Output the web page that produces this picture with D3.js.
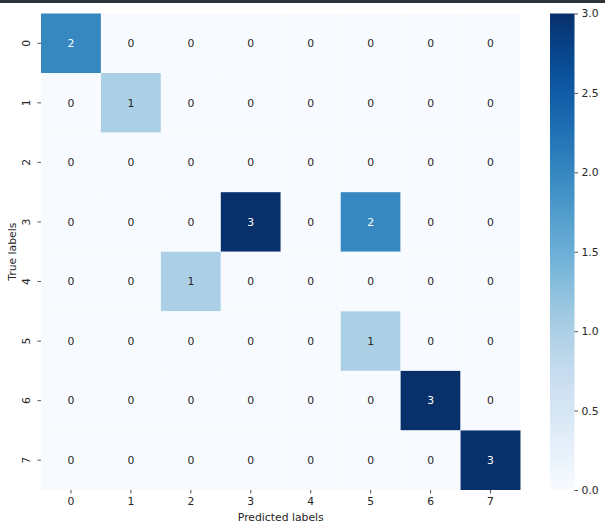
<!DOCTYPE html>
<html>
<head>
<meta charset="utf-8">
<script src="https://cdn.jsdelivr.net/npm/d3@7"></script>
<style>
  body { margin: 0; background: #fff; }
  text { font-family: "DejaVu Sans", sans-serif; fill: #262626; }
</style>
</head>
<body>
<div class="chart"></div>
<script>
const trueLabels = ['0', '1', '2', '3', '4', '5', '6', '7'];
const predLabels = ['0', '1', '2', '3', '4', '5', '6', '7'];
const counts = [
  [2, 0, 0, 0, 0, 0, 0, 0],
  [0, 1, 0, 0, 0, 0, 0, 0],
  [0, 0, 0, 0, 0, 0, 0, 0],
  [0, 0, 0, 3, 0, 2, 0, 0],
  [0, 0, 1, 0, 0, 0, 0, 0],
  [0, 0, 0, 0, 0, 1, 0, 0],
  [0, 0, 0, 0, 0, 0, 3, 0],
  [0, 0, 0, 0, 0, 0, 0, 3]
];
const colorTicks = [0, 0.5, 1, 1.5, 2, 2.5, 3];

// matplotlib "Blues" stops
const blues = ['#f7fbff', '#deebf7', '#c6dbef', '#9ecae1', '#6baed6',
  '#4292c6', '#2171b5', '#08519c', '#08306b'];
const vmax = 3;
const color = d3.scaleLinear()
  .domain(blues.map((c, i) => i / (blues.length - 1) * vmax))
  .range(blues)
  .interpolate(d3.interpolateRgb);

const width = 605;
const height = 530;
const fs = '10.8px';
const svg = d3.select('.chart').append('svg')
  .attr('width', width)
  .attr('height', height);

// dark strip along the top of the screenshot
svg.append('rect')
  .attr('x', 0).attr('y', 0)
  .attr('width', width).attr('height', 3)
  .attr('fill', '#2c3237');

const mLeft = 41, mRight = 520.5, mTop = 13.5, mBottom = 490;

const x = d3.scaleBand().domain(predLabels).range([mLeft, mRight]);
const y = d3.scaleBand().domain(trueLabels).range([mTop, mBottom]);

const cells = [];
counts.forEach((row, i) => row.forEach((v, j) => cells.push({ r: trueLabels[i], c: predLabels[j], v })));

svg.append('g').selectAll('rect')
  .data(cells)
  .enter()
  .append('rect')
  .attr('x', d => x(d.c))
  .attr('y', d => y(d.r))
  .attr('width', x.bandwidth())
  .attr('height', y.bandwidth())
  .attr('fill', d => color(d.v));

svg.append('g').selectAll('text')
  .data(cells)
  .enter()
  .append('text')
  .attr('x', d => x(d.c) + x.bandwidth() / 2)
  .attr('y', d => y(d.r) + y.bandwidth() / 2)
  .attr('text-anchor', 'middle')
  .attr('dy', '0.35em')
  .style('font-size', fs)
  .style('fill', d => d.v >= 1.5 ? '#ffffff' : '#262626')
  .text(d => d.v);

// axes
const xAxis = svg.append('g')
  .attr('transform', `translate(0,${mBottom})`)
  .call(d3.axisBottom(x).tickSize(3.5).tickPadding(3.5));
xAxis.select('.domain').remove();
xAxis.selectAll('line').attr('stroke', '#262626').attr('stroke-width', 0.8);
xAxis.selectAll('text').style('font-size', fs).attr('fill', '#262626');

const yAxis = svg.append('g')
  .attr('transform', `translate(${mLeft},0)`)
  .call(d3.axisLeft(y).tickSize(3.5).tickPadding(3.5));
yAxis.select('.domain').remove();
yAxis.selectAll('line').attr('stroke', '#262626').attr('stroke-width', 0.8);
yAxis.selectAll('text')
  .style('font-size', fs)
  .attr('fill', '#262626')
  .attr('text-anchor', 'middle')
  .attr('x', 0)
  .attr('dy', 0)
  .attr('transform', 'translate(-15,0) rotate(-90)')
  .attr('dominant-baseline', 'central');

svg.append('text')
  .attr('x', (mLeft + mRight) / 2)
  .attr('y', 521)
  .attr('text-anchor', 'middle')
  .style('font-size', fs)
  .text('Predicted labels');

svg.append('text')
  .attr('transform', `translate(16,${(mTop + mBottom) / 2}) rotate(-90)`)
  .attr('text-anchor', 'middle')
  .style('font-size', fs)
  .text('True labels');

// colorbar
const cbX = 550, cbW = 24.5;
const cbScale = d3.scaleLinear().domain([0, vmax]).range([mBottom, mTop]);
const defs = svg.append('defs');
const grad = defs.append('linearGradient')
  .attr('id', 'cbgrad')
  .attr('x1', 0).attr('y1', 1).attr('x2', 0).attr('y2', 0);
grad.selectAll('stop')
  .data(d3.range(0, 1.0001, 0.05))
  .enter()
  .append('stop')
  .attr('offset', d => d)
  .attr('stop-color', d => color(d * vmax));

svg.append('rect')
  .attr('x', cbX)
  .attr('y', mTop)
  .attr('width', cbW)
  .attr('height', mBottom - mTop)
  .attr('fill', 'url(#cbgrad)');

const cbAxis = svg.append('g')
  .attr('transform', `translate(${cbX + cbW},0)`)
  .call(d3.axisRight(cbScale).tickValues(colorTicks).tickFormat(d3.format('.1f')).tickSize(3.5).tickPadding(3.5));
cbAxis.select('.domain').remove();
cbAxis.selectAll('line').attr('stroke', '#262626').attr('stroke-width', 0.8);
cbAxis.selectAll('text').style('font-size', fs).attr('fill', '#262626');
</script>
</body>
</html>
